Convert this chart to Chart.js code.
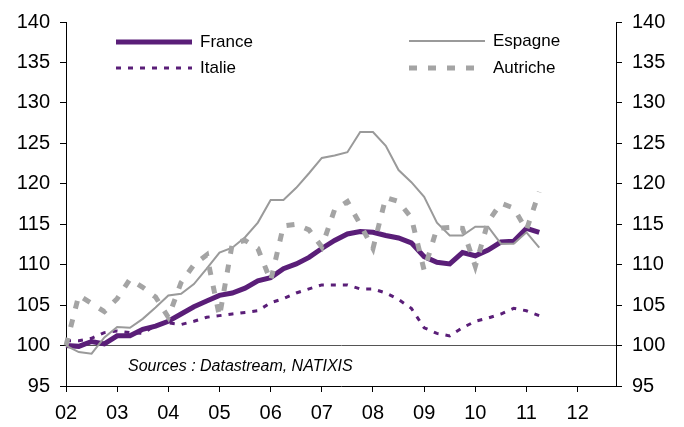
<!DOCTYPE html>
<html>
<head>
<meta charset="utf-8">
<script src="https://cdn.jsdelivr.net/npm/chart.js@4/dist/chart.umd.min.js"></script>
<style>
  html, body { margin: 0; padding: 0; background: #fff; }
</style>
</head>
<body>
<canvas id="chart" width="684" height="427"></canvas>
<script>
// === Data (quarterly index, 2002T1 = 100) ===
const years = ['02', '03', '04', '05', '06', '07', '08', '09', '10', '11', '12'];
const quarters = years.flatMap(y => ['T1', 'T2', 'T3', 'T4'].map(q => y + q));

const france = [100, 99.9, 100.5, 100.2, 101.2, 101.2, 102.0, 102.4, 103.0, 103.9, 104.8, 105.5,
    106.2, 106.5, 107.1, 108.0, 108.4, 109.5, 110.1, 110.9, 112.0, 113.0, 113.8, 114.1,
    114.0, 113.6, 113.3, 112.7, 111.0, 110.3, 110.1, 111.5, 111.1, 111.8, 112.8, 112.9, 114.5, 114.0];
const espagne = [100, 99.2, 99.0, 101.0, 102.3, 102.2, 103.3, 104.7, 106.2, 106.4, 107.6, 109.5,
    111.5, 112.1, 113.4, 115.2, 118.0, 118.0, 119.5, 121.3, 123.2, 123.5, 123.9, 126.4,
    126.4, 124.7, 121.7, 120.2, 118.4, 115.2, 113.6, 113.6, 114.7, 114.7, 112.6, 112.6, 114.0, 112.1];
const italie = [100.6, 100.6, 100.9, 101.6, 101.8, 101.6, 101.5, 102.5, 102.8, 102.6, 103.0, 103.5,
    103.7, 103.9, 104.1, 104.3, 105.3, 105.8, 106.5, 107.0, 107.5, 107.5, 107.5, 107.0,
    107.0, 106.5, 105.7, 104.6, 102.2, 101.5, 101.2, 102.2, 103.0, 103.4, 103.9, 104.6, 104.3, 103.7];
const autriche = [100, 106.2, 105.2, 104.2, 105.8, 108.2, 107.2, 106.0, 103.5, 107.8, 110.0, 111.2,
    103.6, 112.6, 113.0, 112.0, 108.0, 114.8, 115.0, 114.3, 112.2, 116.8, 117.8, 115.0,
    112.0, 118.3, 117.8, 115.8, 109.3, 114.5, 114.6, 114.5, 109.8, 115.3, 117.6, 117.0, 114.3, 119.0];

const yMin = 95, yMax = 140, yStep = 5;
const sourceText = 'Sources : Datastream, NATIXIS';

const PURPLE = '#5a1e78';
const GREY = '#a4a4a4';
const FONT = '"Liberation Sans", Arial, sans-serif';

// === Legend drawn in two columns, like the original ===
const legendPos = [
    { label: 'France', x: 116, y: 42 },
    { label: 'Italie', x: 116, y: 68 },
    { label: 'Espagne', x: 409, y: 41 },
    { label: 'Autriche', x: 409, y: 68 }
];

const extrasPlugin = {
    id: 'extras',
    afterDraw(chart) {
        const ctx = chart.ctx;
        ctx.save();
        legendPos.forEach(item => {
            const ds = chart.data.datasets.find(d => d.label === item.label);
            ctx.beginPath();
            ctx.strokeStyle = ds.borderColor;
            ctx.lineWidth = ds.borderWidth;
            ctx.setLineDash(ds.borderDash || []);
            ctx.moveTo(item.x, item.y);
            ctx.lineTo(item.x + 76, item.y);
            ctx.stroke();
            ctx.setLineDash([]);
            ctx.fillStyle = '#000';
            ctx.font = '17px ' + FONT;
            ctx.textBaseline = 'middle';
            ctx.fillText(item.label, item.x + 84, item.y);
        });
        ctx.font = 'italic 16px ' + FONT;
        ctx.textBaseline = 'middle';
        ctx.fillStyle = '#000';
        ctx.fillText(sourceText, 128, 367);
        ctx.restore();
    }
};

function yAxis(position, width) {
    return {
        position: position,
        min: yMin,
        max: yMax,
        ticks: {
            stepSize: yStep,
            color: '#000',
            padding: 10,
            font: { size: 20, family: FONT }
        },
        grid: {
            drawOnChartArea: position === 'left',
            color: ctx => (ctx.tick && ctx.tick.value === 100) ? '#555' : 'rgba(0,0,0,0)',
            tickColor: '#000',
            tickLength: 6
        },
        border: { color: '#000', width: 1 },
        afterFit: s => { s.width = width; }
    };
}

new Chart(document.getElementById('chart').getContext('2d'), {
    type: 'line',
    data: {
        labels: quarters,
        datasets: [
            { label: 'Autriche', data: autriche, borderColor: GREY, borderWidth: 5, borderDash: [8, 11], order: 1 },
            { label: 'Espagne', data: espagne, borderColor: '#9a9a9a', borderWidth: 2, order: 2 },
            { label: 'Italie', data: italie, borderColor: PURPLE, borderWidth: 3, borderDash: [5, 7], order: 3 },
            { label: 'France', data: france, borderColor: PURPLE, borderWidth: 5, order: 4 }
        ].map(d => Object.assign({ pointRadius: 0, tension: 0, fill: false, borderCapStyle: 'butt' }, d))
    },
    options: {
        responsive: false,
        animation: false,
        layout: { padding: { top: 21 } },
        plugins: {
            legend: { display: false },
            tooltip: { enabled: false }
        },
        scales: {
            x: {
                offset: false,
                grid: {
                    drawOnChartArea: false,
                    color: 'rgba(0,0,0,0)',
                    tickColor: ctx => ctx.index % 4 === 0 ? '#000' : 'rgba(0,0,0,0)',
                    tickLength: 6
                },
                border: { color: '#000', width: 1 },
                ticks: {
                    autoSkip: false,
                    maxRotation: 0,
                    padding: 9,
                    color: '#000',
                    font: { size: 20, family: FONT },
                    callback: (v, i) => i % 4 === 0 ? years[i / 4] : ''
                },
                afterFit: s => { s.height = 41; }
            },
            y: yAxis('left', 66),
            y2: yAxis('right', 68)
        }
    },
    plugins: [extrasPlugin]
});
</script>
</body>
</html>
